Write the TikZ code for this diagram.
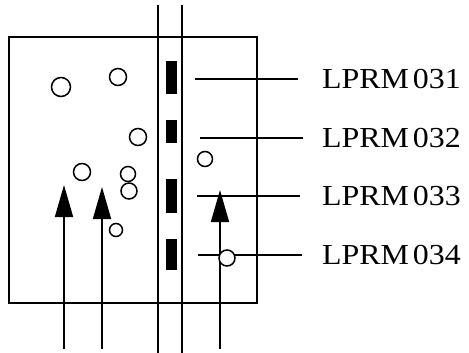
\documentclass[tikz,border=0pt]{standalone}
\usepackage{fontspec}
\setmainfont{Liberation Serif}
\usetikzlibrary{arrows.meta}
\newcommand{\lprm}[1]{\scalebox{1.1}[1]{LPRM\hspace{0.12em}#1}}
\begin{document}
\begin{tikzpicture}[x=1pt,y=-1pt,
  ln/.style={line width=1.7pt,black},
  ring/.style={circle,draw,line width=1.5pt,inner sep=0pt,fill=white},
  det/.style={fill=black,draw=none,minimum width=11pt,inner sep=0pt},
  lbl/.style={anchor=west,inner sep=0pt,font=\fontsize{29}{31}\selectfont},
  flow/.style={line width=1.7pt,-{Triangle[length=32pt,width=18pt]}}]
\useasboundingbox (0,0) rectangle (469,353);
% vessel box
\draw[ln] (9,37) rectangle (257,303);
% channel walls
\coordinate (w1t) at (158,5); \coordinate (w1b) at (158,353);
\coordinate (w2t) at (182,5); \coordinate (w2b) at (182,353);
\draw[ln] (w1t) -- (w1b);
\draw[ln] (w2t) -- (w2b);
% detectors
\node[det,minimum height=33pt] (d1) at (171.5,77.5) {};
\node[det,minimum height=23pt] (d2) at (171.5,131.5) {};
\node[det,minimum height=34pt] (d3) at (171.5,196) {};
\node[det,minimum height=31pt] (d4) at (171.5,254.5) {};
% bubbles
\node[ring,minimum size=19pt] (b1) at (61,87) {};
\node[ring,minimum size=17pt] (b2) at (118,77) {};
\node[ring,minimum size=17pt] (b3) at (138,137) {};
\node[ring,minimum size=17pt] (b4) at (82,172) {};
\node[ring,minimum size=15pt] (b5) at (128,174) {};
\node[ring,minimum size=16pt] (b6) at (129,191) {};
\node[ring,minimum size=13pt] (b7) at (116,230) {};
\node[ring,minimum size=15pt] (b8) at (205,159) {};
% labels
\node[lbl] (l1) at (322,79) {\lprm{031}};
\node[lbl] (l2) at (322,138) {\lprm{032}};
\node[lbl] (l3) at (322,196) {\lprm{033}};
\node[lbl] (l4) at (322,255) {\lprm{034}};
\coordinate (s1) at (195,79); \coordinate (e1) at (298,79);
\coordinate (s2) at (200,138); \coordinate (e2) at (303,138);
\coordinate (s3) at (197,196); \coordinate (e3) at (300,196);
\coordinate (s4) at (198,255); \coordinate (e4) at (302,255);
\draw[ln] (s1) -- (e1);
\draw[ln] (s2) -- (e2);
\draw[ln] (s3) -- (e3);
\draw[ln] (s4) -- (e4);
% flow arrows
\coordinate (a1b) at (64,349); \coordinate (a1t) at (64,185);
\coordinate (a2b) at (102,349); \coordinate (a2t) at (102,187);
\coordinate (a3b) at (220,349); \coordinate (a3t) at (220,190);
\draw[flow] (a1b) -- (a1t);
\draw[flow] (a2b) -- (a2t);
\draw[flow] (a3b) -- (a3t);
\node[ring,minimum size=16pt] (b9) at (227,258) {};
\end{tikzpicture}
\end{document}
